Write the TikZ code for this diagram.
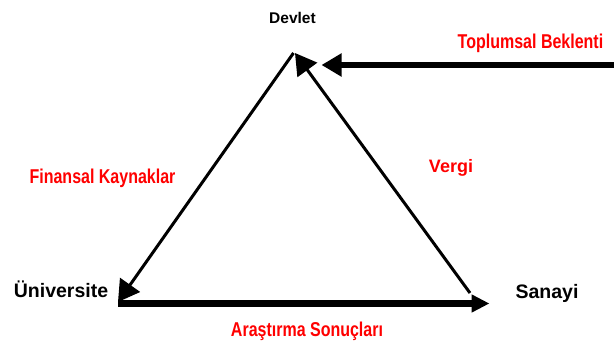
\documentclass[tikz,border=0pt]{standalone}
\usepackage{fontspec}
\setmainfont{Liberation Sans}
\newfontfamily\condfont{Liberation Sans}[FakeStretch=0.8]
\usetikzlibrary{arrows.meta}
\definecolor{lblred}{RGB}{255,0,0}
\tikzset{
  blk/.style={anchor=base, inner sep=0pt, font=\bfseries\fontsize{19.5}{22}\selectfont},
  redlbl/.style={anchor=base, inner sep=0pt, text=lblred, font=\condfont\bfseries\fontsize{20}{24}\selectfont},
  thin arrow/.style={line width=3pt, -{Triangle[length=21pt,width=24pt]}},
  thick arrow/.style={line width=6.5pt, -{Triangle[length=18pt,width=17pt]}}
}
\begin{document}
\begin{tikzpicture}[x=1pt,y=-1pt]
\useasboundingbox (0,0) rectangle (614,345);
% labels
\node[anchor=base, inner sep=0pt, font=\bfseries\fontsize{15.5}{18}\selectfont] (devlet) at (292.5,24) {Devlet};
\node[blk] (uni) at (61,297.5) {Üniversite};
\node[blk] (sanayi) at (547,298.5) {Sanayi};
\node[redlbl] (toplum) at (530.5,48.3) {Toplumsal Beklenti};
\node[redlbl] (finans) at (102.5,183.3) {Finansal Kaynaklar};
\node[anchor=base, inner sep=0pt, text=lblred, font=\bfseries\fontsize{18}{22}\selectfont] (vergi) at (451,172.7) {Vergi};
\node[redlbl] (arastirma) at (307,336.7) {Araştırma Sonuçları};
% corner points
\coordinate (apex) at (293.5,53);
\coordinate (apexR) at (295,53);
\coordinate (uniTip) at (118,302);
\coordinate (bottomL) at (118,303.5);
\coordinate (bottomR) at (489.5,303.5);
\coordinate (sanCorner) at (470,293);
\coordinate (topR) at (614,65);
\coordinate (topTip) at (321.5,65);
% connectors
\draw[thin arrow] (apex) -- (uniTip);
\draw[thin arrow] (sanCorner) -- (apexR);
\draw[thick arrow] (bottomL) -- (bottomR);
\draw[thick arrow, -{Triangle[length=20pt,width=22pt]}] (topR) -- (topTip);
\end{tikzpicture}
\end{document}
